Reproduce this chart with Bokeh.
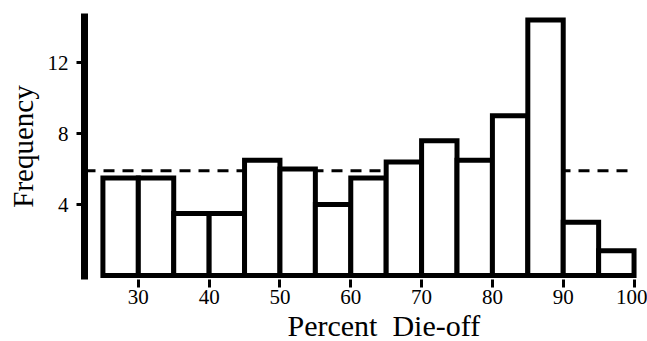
from bokeh.plotting import figure
from bokeh.models import Range1d, FixedTicker, Title
from bokeh.embed import file_html
from bokeh.resources import INLINE

# Data
bin_left = [25, 30, 35, 40, 45, 50, 55, 60, 65, 70, 75, 80, 85, 90, 95]
bin_right = [30, 35, 40, 45, 50, 55, 60, 65, 70, 75, 80, 85, 90, 95, 100]
frequency = [5.5, 5.5, 3.5, 3.5, 6.5, 6.0, 4.0, 5.5, 6.4, 7.6, 6.5, 9.0, 14.4, 3.0, 1.4]
mean_frequency = 5.9
x_ticks = [30, 40, 50, 60, 70, 80, 90, 100]
y_ticks = [4, 8, 12]
x_title = "Percent\u00a0\u00a0Die-off"
y_title = "Frequency"

FONT = "Liberation Serif"

p = figure(width=647, height=341, output_backend="svg", toolbar_location=None,
           x_range=Range1d(22.4, 101.9), y_range=Range1d(-0.22, 14.76),
           min_border_left=84, min_border_right=0, min_border_top=13, min_border_bottom=60)

p.background_fill_color = "white"
p.border_fill_color = "white"
p.outline_line_color = None
p.grid.visible = False

# dashed reference line
p.line(x=[22.4, 99.6], y=[mean_frequency, mean_frequency], line_color="black",
       line_width=3, line_dash="11 8")

p.quad(left=bin_left, right=bin_right, top=frequency, bottom=0,
       fill_color="white", line_color="black", line_width=5, line_join="miter")

# x axis
xa = p.xaxis[0]
xa.ticker = FixedTicker(ticks=x_ticks)
xa.axis_line_color = None
xa.major_tick_line_width = 3
xa.major_tick_out = 8
xa.major_tick_in = 0
xa.minor_tick_line_color = None
xa.major_label_standoff = 2
xa.major_label_text_font = FONT
xa.major_label_text_font_size = "21px"
xa.major_label_text_color = "black"

# x axis title, set right of centre as in the original
p.add_layout(Title(text=x_title, align="left", offset=203, standoff=0,
                   text_font=FONT, text_font_size="30px", text_font_style="normal",
                   text_color="black"), "below")

# y axis
ya = p.yaxis[0]
ya.ticker = FixedTicker(ticks=y_ticks)
ya.axis_line_width = 7
ya.axis_line_color = "black"
ya.major_tick_line_width = 3
ya.major_tick_out = 8
ya.major_tick_in = 0
ya.minor_tick_line_color = None
ya.major_label_standoff = 8
ya.major_label_text_font = FONT
ya.major_label_text_font_size = "21px"
ya.major_label_text_color = "black"
ya.axis_label = y_title
ya.axis_label_text_font = FONT
ya.axis_label_text_font_size = "29px"
ya.axis_label_text_font_style = "normal"
ya.axis_label_text_color = "black"
ya.axis_label_standoff = 6

open("out.html", "w").write(file_html(p, INLINE))
